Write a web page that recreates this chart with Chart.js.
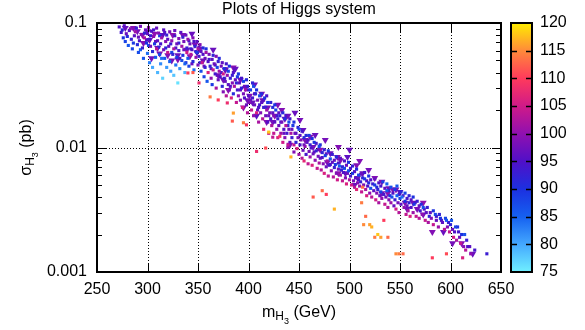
<!DOCTYPE html>
<html>
<head>
<meta charset="utf-8">
<script src="https://cdn.jsdelivr.net/npm/chart.js@4.4.0/dist/chart.umd.min.js"></script>
<style>
  html, body { margin: 0; padding: 0; background: #fff; }
</style>
</head>
<body>
<canvas id="higgs" width="585" height="330"></canvas>
<script>
// axis ticks
const massTicks = [250, 300, 350, 400, 450, 500, 550, 600, 650];
const sigmaTicks = [0.001, 0.01, 0.1];
const sigmaLabels = ['0.001', '0.01', '0.1'];
const colorTicks = [75, 80, 85, 90, 95, 100, 105, 110, 115, 120];

// [m_H3 (GeV), sigma (pb), colour value]
const squarePts = [
  [272,0.093,95],[275,0.088,92],[276,0.076,90],[278,0.071,88],[279,0.082,97],[281,0.066,86],[283,0.090,99],[284,0.074,93],[285,0.062,88],[287,0.079,96],[288,0.085,101],
  [290,0.067,91],[291,0.058,87],[292,0.072,95],[293,0.094,98],[294,0.081,99],[295,0.063,93],[296,0.052,86],[297,0.076,102],[298,0.088,97],[299,0.069,90],[300,0.057,84],[300,0.082,96],[301,0.092,100],
  [302,0.048,83],[302,0.074,94],[303,0.065,98],[304,0.086,95],[305,0.044,80],[305,0.059,91],[306,0.078,100],[307,0.068,89],[308,0.053,86],[309,0.091,97],[309,0.062,103],[310,0.072,96],[310,0.040,79],
  [311,0.083,99],[312,0.056,88],[313,0.047,82],[313,0.068,94],[314,0.076,101],[315,0.036,77],[316,0.061,97],[316,0.088,96],[317,0.052,86],[318,0.071,99],[319,0.044,81],[319,0.080,93],[320,0.058,104],
  [321,0.065,96],[322,0.049,85],[322,0.085,98],[323,0.041,80],[324,0.072,100],[325,0.056,92],[326,0.062,102],[326,0.038,78],[327,0.079,95],[328,0.046,84],[329,0.068,97],[329,0.053,89],[330,0.033,76],
  [331,0.075,99],[331,0.060,94],[332,0.043,82],[333,0.084,96],[334,0.050,87],[334,0.065,101],[335,0.055,90],[336,0.071,98],[337,0.040,79],[337,0.047,85],[338,0.080,97],[339,0.058,105],[339,0.063,93],[340,0.052,86],[340,0.074,100],
  [341,0.045,88],[342,0.068,97],[343,0.056,103],[344,0.061,95],[345,0.076,99],[345,0.049,91],[346,0.042,84],[347,0.065,92],[348,0.053,100],[349,0.071,96],[349,0.058,89],[350,0.046,98],[350,0.062,102],
  [351,0.054,94],[352,0.067,99],[353,0.041,87],[353,0.059,96],[354,0.048,104],[355,0.063,91],[356,0.037,88],[357,0.052,97],[357,0.044,93],[358,0.058,101],[359,0.034,86],[360,0.049,95],[360,0.040,106],
  [361,0.056,98],[362,0.045,92],[363,0.036,100],[364,0.051,96],[364,0.032,89],[365,0.042,104],[366,0.047,97],[367,0.039,94],[368,0.054,99],[368,0.030,102],[369,0.044,88],[370,0.035,97],[370,0.049,93],
  [371,0.041,101],[372,0.037,95],[373,0.045,98],[374,0.031,92],[375,0.039,105],[375,0.028,99],[376,0.043,90],[377,0.034,97],[378,0.047,94],[378,0.026,103],[379,0.038,100],[380,0.032,96],[380,0.041,88],
  [381,0.029,98],[382,0.036,93],[383,0.025,106],[384,0.033,99],[385,0.040,95],[385,0.027,91],[386,0.031,102],[387,0.035,97],[388,0.023,104],[389,0.029,94],[389,0.037,89],[390,0.026,100],
  [391,0.033,96],[392,0.024,99],[393,0.030,92],[394,0.021,105],[395,0.027,98],[395,0.034,88],[396,0.025,95],[397,0.029,101],[398,0.022,97],[399,0.031,93],[399,0.019,103],[400,0.026,96],
  [401,0.023,99],[402,0.029,89],[403,0.020,104],[404,0.025,94],[405,0.031,87],[405,0.018,100],[406,0.022,97],[407,0.027,92],[408,0.019,106],[409,0.024,98],[410,0.021,95],[410,0.016,102],
  [411,0.026,88],[412,0.019,99],[413,0.023,96],[414,0.017,103],[415,0.021,93],[415,0.014,107],[416,0.025,90],[417,0.018,97],[418,0.020,101],[419,0.016,95],[419,0.023,89],[420,0.013,105],
  [421,0.019,98],[422,0.017,94],[423,0.015,102],[424,0.021,91],[425,0.018,99],[425,0.013,104],[426,0.016,96],[427,0.020,88],[428,0.014,100],[429,0.017,93],[429,0.012,106],[430,0.015,97],
  [431,0.018,92],[432,0.013,101],[433,0.016,98],[434,0.011,105],[435,0.014,95],[436,0.017,90],[436,0.012,99],[437,0.015,103],[438,0.013,94],[439,0.010,100],[440,0.014,97],[440,0.016,87],
  [441,0.011,96],[442,0.013,102],[443,0.012,93],[444,0.015,89],[445,0.0105,104],[445,0.0092,99],[446,0.013,97],[447,0.011,92],[448,0.0098,106],[449,0.012,98],[450,0.0088,101],[450,0.014,88],
  [451,0.0105,95],[452,0.0115,99],[453,0.0082,103],[454,0.0095,97],[455,0.012,91],[455,0.0078,107],[456,0.0102,100],[457,0.0088,94],[458,0.011,96],[459,0.0074,104],[460,0.0093,98],[460,0.0125,89],
  [461,0.0084,101],[462,0.0099,95],[463,0.0072,106],[464,0.0089,97],[465,0.011,90],[466,0.0079,100],[467,0.0094,93],[468,0.0068,104],[469,0.0085,98],[470,0.0075,102],[470,0.0102,88],
  [471,0.0082,96],[472,0.0066,103],[473,0.0091,92],[474,0.0074,99],[475,0.0062,106],[476,0.0086,89],[477,0.0070,97],[478,0.0078,101],[479,0.0059,104],[480,0.0072,94],
  [481,0.0081,87],[482,0.0065,100],[483,0.0076,96],[484,0.0058,103],[485,0.0069,93],[486,0.0073,89],[487,0.0062,99],[488,0.0055,105],[489,0.0067,97],[490,0.0071,86],
  [491,0.0060,101],[492,0.0066,92],[493,0.0054,104],[494,0.0063,95],[495,0.0068,88],[496,0.0057,99],[497,0.0051,106],[498,0.0062,97],[499,0.0065,87],[500,0.0055,102],
  [501,0.0059,94],[502,0.0050,105],[503,0.0062,90],[504,0.0054,98],[505,0.0048,103],[506,0.0057,96],[507,0.0046,107],[508,0.0052,99],[509,0.0060,88],[510,0.0049,101],
  [511,0.0053,93],[512,0.0044,104],[514,0.0050,98],[515,0.0056,89],[516,0.0046,102],[517,0.0041,106],[518,0.0049,95],[519,0.0052,91],[520,0.0043,100],
  [521,0.0047,87],[522,0.0040,103],[524,0.0045,96],[525,0.0050,89],[526,0.0038,105],[527,0.0043,99],[528,0.0046,92],[529,0.0036,102],[530,0.0041,97],
  [531,0.0044,88],[532,0.0039,100],[534,0.0042,94],[535,0.0035,104],[536,0.0040,97],[537,0.0045,86],[538,0.0033,103],[539,0.0038,99],[540,0.0041,90],
  [541,0.0036,101],[542,0.0040,87],[544,0.0034,97],[545,0.0038,93],[546,0.0032,105],[547,0.0041,85],[548,0.0036,98],[549,0.0030,103],[550,0.0039,88],
  [551,0.0035,96],[552,0.0040,84],[554,0.0033,100],[555,0.0037,90],[556,0.0029,104],[557,0.0034,97],[558,0.0031,102],[559,0.0036,92],[560,0.0028,106],
  [561,0.0033,95],[563,0.0030,101],[564,0.0035,89],[566,0.0028,104],[567,0.0032,98],[569,0.0027,103],[570,0.0031,94],
  [572,0.0029,100],[573,0.0033,87],[575,0.0026,104],[576,0.0030,96],[578,0.0025,102],[579,0.0028,92],
  [581,0.0027,99],[583,0.0024,104],[585,0.0029,88],[586,0.0026,97],[588,0.0023,101],[590,0.0027,90],
  [592,0.0025,96],[594,0.0022,103],[596,0.0026,86],[597,0.0023,99],[599,0.0021,104],[600,0.0024,92],
  [602,0.0022,97],[603,0.0019,105],[605,0.0023,88],[606,0.0018,102],[608,0.0021,94],[610,0.0017,104],[611,0.0020,90],[612,0.0013,106],[613,0.0016,99],[615,0.0015,103],[617,0.0016,95],[620,0.0014,100],[636,0.0014,93],
  // points below the band
  [340,0.0397,110],[345,0.040,112],[351,0.033,108],[362,0.0255,114],[370,0.0241,110],[379,0.0228,108],[385,0.0189,116],[384,0.0163,112],
  [395,0.0158,114],[398,0.0152,109],[408,0.0093,108],[417,0.0099,111],[420,0.0133,118],[424,0.0121,104],[431,0.0123,109],[439,0.0105,104],
  [442,0.0084,117],[464,0.0040,112],[473,0.0045,113],[477,0.0042,110],[485,0.0032,117],[512,0.0036,114],[513,0.0048,113],[516,0.0028,113],
  [514,0.0024,115],[520,0.0024,116],[522,0.0023,117],[528,0.0020,118],[525,0.0019,114],[531,0.0019,116],[538,0.0019,113],[534,0.0026,110],
  [549,0.0014,114],[553,0.0014,113],[546,0.0014,115],[582,0.0013,110],[596,0.0014,111]
];

// more squares in the upper part of the band
const squareMorePts = [
  [274,0.084,94],[277,0.095,96],[280,0.078,91],[282,0.087,95],[286,0.069,89],[289,0.091,93],[291,0.077,97],[293,0.061,85],[297,0.083,92],[299,0.073,95],
  [301,0.066,88],[303,0.079,93],[306,0.088,94],[308,0.071,97],[311,0.064,92],[312,0.079,89],[314,0.052,84],[317,0.084,95],[318,0.063,91],[320,0.074,96],
  [323,0.068,93],[324,0.058,88],[327,0.087,97],[328,0.063,94],[331,0.069,92],[332,0.052,95],[335,0.077,93],[336,0.061,97],[338,0.048,90],[341,0.072,94],
  [343,0.062,92],[344,0.047,97],[346,0.071,95],[348,0.059,93],[351,0.064,96],[352,0.048,92],[355,0.056,95],[356,0.045,98],[358,0.062,90],[361,0.051,94],
  [363,0.043,96],[365,0.055,92],[367,0.046,95],[369,0.038,97],[371,0.052,91],[373,0.040,94],[374,0.048,96],[376,0.036,93],[378,0.043,97],[381,0.045,90],
  [382,0.031,95],[384,0.038,93],[386,0.042,96],[388,0.033,92],[390,0.039,89],[392,0.029,96],[393,0.036,94],[396,0.031,97],[398,0.035,91],[400,0.029,94],
  [402,0.024,97],[404,0.033,92],[406,0.027,95],[408,0.029,90],[409,0.020,96],[411,0.022,94],[413,0.027,91],[415,0.024,96],[417,0.021,93],[418,0.026,95],
  [420,0.018,97],[422,0.023,92],[424,0.019,96],[426,0.022,90],[428,0.018,94],[430,0.019,96],[432,0.016,93],[434,0.019,91],[435,0.013,97],[437,0.018,95],
  [439,0.015,92],[441,0.017,94],[443,0.014,97],[445,0.016,90],[447,0.013,95],[449,0.0145,92],[451,0.0125,96],[453,0.0135,94],[455,0.0105,97],[457,0.0125,91],
  [459,0.0115,95],[461,0.0105,93],[463,0.0118,90],[465,0.0092,96],[467,0.0108,94],[469,0.0096,97],[471,0.0105,91],[473,0.0083,95],[475,0.0096,93],[477,0.0089,96],
  [479,0.0094,90],[481,0.0073,95],[483,0.0088,93],[485,0.0079,97],[487,0.0084,91],[489,0.0075,94],[491,0.0082,96],[493,0.0070,92],[495,0.0078,95],[497,0.0072,97],
  [499,0.0076,90],[501,0.0068,95],[503,0.0071,93],[505,0.0064,96],[507,0.0067,91],[509,0.0055,95],[511,0.0061,97],[513,0.0057,92],[515,0.0063,94],[517,0.0054,96],
  [519,0.0059,90],[521,0.0055,95],[523,0.0051,93],[525,0.0056,97],[527,0.0048,91],[529,0.0052,95],[531,0.0049,94],[533,0.0053,88],[535,0.0047,96],[537,0.0051,85],
  [539,0.0045,93],[541,0.0048,87],[543,0.0043,95],[545,0.0046,89],[547,0.0049,86],[549,0.0042,94],[551,0.0044,91],[553,0.0041,96],[555,0.0043,88],[557,0.0039,94],
  [559,0.0041,92],[561,0.0038,96],[563,0.0040,90],[565,0.0036,95],[567,0.0037,93],[569,0.0034,97],[571,0.0035,91],[574,0.0032,95],[577,0.0033,93],[580,0.0030,96],
  [583,0.0031,90],[586,0.0028,94],[589,0.0029,92],[591,0.0026,95],[595,0.0027,88],[598,0.0025,93],[601,0.0026,86],[604,0.0021,95],[607,0.0023,90],[609,0.0019,97],
  [614,0.0020,87],[616,0.0018,93],[619,0.0016,96],[624,0.0015,94]
];

const trianglePts = [
  [278,0.091,97],[286,0.091,99],[290,0.086,98],[295,0.080,100],[300,0.086,97],[296,0.069,99],[302,0.073,98],[307,0.082,100],[310,0.063,97],
  [312,0.057,99],[304,0.052,98],[315,0.080,96],[320,0.055,99],[324,0.050,98],[325,0.080,100],[330,0.055,97],[335,0.080,99],[339,0.061,98],
  [342,0.054,100],[344,0.082,97],[347,0.067,99],[349,0.058,96],[355,0.050,98],[352,0.062,100],[365,0.061,97],[330,0.051,99],[375,0.035,98],
  [385,0.044,100],[387,0.043,97],[397,0.030,99],[399,0.024,98],[395,0.021,100],[404,0.023,97],[413,0.027,99],[414,0.024,98],[408,0.018,96],
  [418,0.016,99],[424,0.016,98],[426,0.018,100],[436,0.017,97],[433,0.020,99],[439,0.018,98],[441,0.0105,99],[454,0.0138,97],[461,0.0122,99],
  [464,0.0101,98],[471,0.0096,100],[481,0.0090,97],[489,0.0101,99],[488,0.0084,98],[498,0.0084,96],[510,0.0078,99],[478,0.0076,98],[489,0.0062,100],
  [496,0.0062,97],[507,0.0072,99],[508,0.0057,98],[513,0.0062,97],[532,0.0053,99],[532,0.0043,98],[538,0.0043,100],[539,0.0047,97],[543,0.0046,99],
  [546,0.0046,98],[550,0.0044,96],[555,0.0036,99],[563,0.0036,98],[573,0.0036,100],[557,0.0032,97],[567,0.0032,99],[573,0.0029,98],[582,0.0021,99],
  [593,0.0021,97],[602,0.0017,98],[611,0.0017,99],[622,0.0014,97],
  [370,0.038,99],[377,0.042,97],[392,0.035,98],[380,0.029,100],[401,0.026,99],[406,0.032,97],[419,0.021,98],[429,0.022,99],[446,0.019,97],
  [451,0.0166,98],[456,0.0115,99],[466,0.0126,97],[476,0.0115,98],[491,0.0079,99],[500,0.0096,97],[519,0.0066,98],[525,0.0057,99],[505,0.0050,97]
];

// palette for the colour value
const palette = [
  [75, [112, 240, 255]], [80, [68, 168, 255]], [85, [21, 96, 240]], [90, [28, 48, 224]],
  [95, [80, 16, 200]], [100, [144, 16, 176]], [105, [208, 26, 136]], [110, [255, 58, 92]],
  [115, [255, 138, 58]], [120, [255, 238, 0]]
];

function heat(v) {
  for (let i = 1; i < palette.length; i++) {
    if (v <= palette[i][0]) {
      const [v0, c0] = palette[i - 1], [v1, c1] = palette[i];
      const t = (v - v0) / (v1 - v0);
      return 'rgb(' + c0.map((c, k) => Math.round(c + (c1[k] - c) * t)).join(',') + ')';
    }
  }
  return 'rgb(' + palette[palette.length - 1][1].join(',') + ')';
}

const FONT = "'Liberation Sans', Arial, sans-serif";
Chart.defaults.font.family = FONT;
Chart.defaults.color = '#000';

function drawParts(ctx, parts, x, y) {
  let w = 0;
  parts.forEach(p => { ctx.font = p[1] + 'px ' + FONT; w += ctx.measureText(p[0]).width; });
  let cx = x - w / 2;
  parts.forEach(p => {
    ctx.font = p[1] + 'px ' + FONT;
    ctx.fillText(p[0], cx, y + p[2]);
    cx += ctx.measureText(p[0]).width;
  });
}

const frame = {
  id: 'frame',
  beforeDatasetsDraw(chart) {
    const {ctx, chartArea: a, scales: {x, y}} = chart;
    ctx.save();
    ctx.strokeStyle = '#000';
    ctx.lineWidth = 1;
    ctx.setLineDash([1, 2]);
    ctx.beginPath();
    massTicks.slice(1, -1).forEach(v => {
      const px = Math.round(x.getPixelForValue(v)) + 0.5;
      ctx.moveTo(px, a.top); ctx.lineTo(px, a.bottom);
    });
    sigmaTicks.slice(1, -1).forEach(v => {
      const py = Math.round(y.getPixelForValue(v)) + 0.5;
      ctx.moveTo(a.left, py); ctx.lineTo(a.right, py);
    });
    ctx.stroke();
    ctx.restore();
  },
  afterDatasetsDraw(chart) {
    const {ctx, chartArea: a, scales: {x, y, cb}} = chart;
    ctx.save();
    ctx.strokeStyle = '#000';
    // inward ticks
    ctx.lineWidth = 1;
    ctx.beginPath();
    massTicks.forEach(v => {
      const px = Math.round(x.getPixelForValue(v)) + 0.5;
      ctx.moveTo(px, a.bottom); ctx.lineTo(px, a.bottom - 9);
      ctx.moveTo(px, a.top); ctx.lineTo(px, a.top + 9);
    });
    sigmaTicks.forEach((d, i) => {
      const py = Math.round(y.getPixelForValue(d)) + 0.5;
      ctx.moveTo(a.left, py); ctx.lineTo(a.left + 9, py);
      ctx.moveTo(a.right, py); ctx.lineTo(a.right - 9, py);
      if (i < sigmaTicks.length - 1) {
        for (let k = 2; k <= 9; k++) {
          const pm = Math.round(y.getPixelForValue(k * d)) + 0.5;
          ctx.moveTo(a.left, pm); ctx.lineTo(a.left + 5, pm);
          ctx.moveTo(a.right, pm); ctx.lineTo(a.right - 5, pm);
        }
      }
    });
    ctx.stroke();
    // frame
    ctx.lineWidth = 2;
    ctx.strokeRect(Math.round(a.left), Math.round(a.top), Math.round(a.right - a.left), Math.round(a.bottom - a.top));

    // colour box
    const bx = Math.round(a.right) + 10, bw = 21;
    const top = cb.getPixelForValue(120), bot = cb.getPixelForValue(75);
    const g = ctx.createLinearGradient(0, bot, 0, top);
    palette.forEach(([v, c]) => g.addColorStop((v - 75) / 45, 'rgb(' + c.join(',') + ')'));
    ctx.fillStyle = g;
    ctx.fillRect(bx, top, bw, bot - top);
    ctx.lineWidth = 1.5;
    ctx.beginPath();
    colorTicks.slice(1, -1).forEach(v => {
      const py = Math.round(cb.getPixelForValue(v)) + 0.5;
      ctx.moveTo(bx, py); ctx.lineTo(bx + 6, py);
      ctx.moveTo(bx + bw, py); ctx.lineTo(bx + bw - 6, py);
    });
    ctx.stroke();
    ctx.lineWidth = 2;
    ctx.strokeRect(bx, Math.round(top), bw, Math.round(bot - top));

    // titles
    ctx.fillStyle = '#000';
    ctx.textBaseline = 'alphabetic';
    const mid = (a.left + a.right) / 2;
    drawParts(ctx, [['Plots of Higgs system', 16, 0]], mid, 14);
    drawParts(ctx, [['m', 16, 0], ['H', 12, 3], ['3', 9, 7], [' (GeV)', 16, 0]], mid, 317);
    ctx.translate(31, (a.top + a.bottom) / 2);
    ctx.rotate(-Math.PI / 2);
    drawParts(ctx, [['\u03c3', 16, 0], ['H', 12, 3], ['3', 9, 7], [' (pb)', 16, 0]], 0, 0);
    ctx.restore();
  }
};

const toXY = p => ({x: p[0], y: p[1]});
const allSquares = squareMorePts.concat(squarePts);

new Chart(document.getElementById('higgs'), {
  type: 'scatter',
  data: {
    datasets: [{
      label: 'squares',
      data: allSquares.map(toXY),
      pointStyle: 'rect',
      pointRadius: 2.2,
      borderWidth: 0,
      backgroundColor: allSquares.map(p => heat(p[2]))
    }, {
      label: 'triangles',
      data: trianglePts.map(toXY),
      pointStyle: 'triangle',
      rotation: 180,
      pointRadius: 4,
      borderWidth: 0,
      backgroundColor: trianglePts.map(p => heat(p[2]))
    }]
  },
  options: {
    responsive: false,
    animation: false,
    events: [],
    layout: { padding: { top: 23, left: 0, right: 0, bottom: 0 } },
    plugins: { legend: { display: false }, tooltip: { enabled: false } },
    scales: {
      x: {
        type: 'linear', min: 250, max: 650,
        afterBuildTicks: s => { s.ticks = massTicks.map(v => ({value: v})); },
        afterFit: s => { s.height = 58; },
        grid: { display: false, drawTicks: false },
        border: { display: false },
        ticks: { font: { size: 16 }, padding: 8, maxRotation: 0, autoSkip: false }
      },
      y: {
        type: 'logarithmic', min: 0.001, max: 0.1,
        afterBuildTicks: s => { s.ticks = sigmaTicks.map(v => ({value: v})); },
        afterFit: s => { s.width = 97; },
        grid: { display: false, drawTicks: false },
        border: { display: false },
        ticks: { font: { size: 16 }, padding: 10, autoSkip: false,
          callback: v => sigmaLabels[sigmaTicks.indexOf(v)] }
      },
      cb: {
        type: 'linear', axis: 'y', position: 'right', min: 75, max: 120,
        afterBuildTicks: s => { s.ticks = colorTicks.map(v => ({value: v})); },
        afterFit: s => { s.width = 84; },
        grid: { display: true, drawOnChartArea: false, drawTicks: true, tickLength: 39, color: 'rgba(0,0,0,0)' },
        border: { display: false },
        ticks: { font: { size: 16 }, padding: 0, autoSkip: false }
      }
    }
  },
  plugins: [frame]
});
</script>
</body>
</html>
